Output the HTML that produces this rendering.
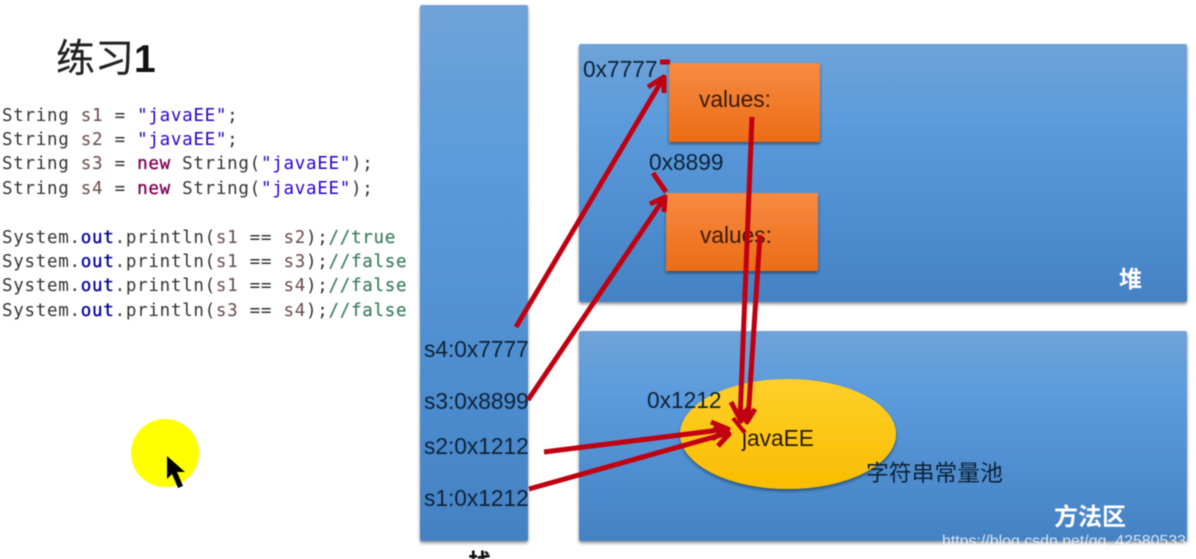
<!DOCTYPE html>
<html><head><meta charset="utf-8"><style>
html,body{margin:0;padding:0;background:#fff;width:1196px;height:559px;overflow:hidden}
svg{display:block;filter:blur(.45px)}
.c{font-family:"DejaVu Sans Mono","Liberation Mono",monospace;font-size:17.5px;letter-spacing:.72px;fill:#333;white-space:pre}
.l{font-family:"Liberation Sans","Noto Sans CJK SC",sans-serif;font-size:22.7px;fill:#0d2238}
.k{fill:#7f0055;stroke:#7f0055;stroke-width:.35px}.s{fill:#2a00d0}.v{fill:#6a4a4a}.f{fill:#0000a0;stroke:#0000a0;stroke-width:.35px}.m{fill:#3f7f5f;stroke:#3f7f5f;stroke-width:.2px}
</style></head><body>
<svg width="1196" height="559" viewBox="0 0 1196 559" xmlns="http://www.w3.org/2000/svg">
<defs>
<linearGradient id="b" x1="0" y1="0" x2="0" y2="1"><stop offset="0" stop-color="#6fa3d8"/><stop offset=".3" stop-color="#5b9bdc"/><stop offset="1" stop-color="#4482c4"/></linearGradient>
<linearGradient id="o" x1="0" y1="0" x2="0" y2="1"><stop offset="0" stop-color="#f78b42"/><stop offset="1" stop-color="#ec6c16"/></linearGradient>
<linearGradient id="y" x1="0" y1="0" x2="0" y2="1"><stop offset="0" stop-color="#fdd02a"/><stop offset="1" stop-color="#fbbd00"/></linearGradient>
<filter id="sh" x="-5%" y="-5%" width="110%" height="110%"><feDropShadow dx="0" dy="2" stdDeviation="1.5" flood-color="#000" flood-opacity=".45"/></filter>
</defs>
<rect x="0" y="0" width="1196" height="559" fill="#fff"/>

<text x="56" y="72" font-family="'Liberation Sans','Noto Sans CJK SC',sans-serif" font-size="39" fill="#222" stroke="#222" stroke-width=".2">练习<tspan font-weight="bold" stroke="none" fill="#111">1</tspan></text>

<text class="c" x="2" y="121">String <tspan class="v">s1</tspan> = <tspan class="s">"javaEE"</tspan>;</text>
<text class="c" x="2" y="145">String <tspan class="v">s2</tspan> = <tspan class="s">"javaEE"</tspan>;</text>
<text class="c" x="2" y="169">String <tspan class="v">s3</tspan> = <tspan class="k">new</tspan> String(<tspan class="s">"javaEE"</tspan>);</text>
<text class="c" x="2" y="194">String <tspan class="v">s4</tspan> = <tspan class="k">new</tspan> String(<tspan class="s">"javaEE"</tspan>);</text>
<text class="c" x="2" y="243">System.<tspan class="f">out</tspan>.println(<tspan class="v">s1</tspan> == <tspan class="v">s2</tspan>);<tspan class="m">//true</tspan></text>
<text class="c" x="2" y="267">System.<tspan class="f">out</tspan>.println(<tspan class="v">s1</tspan> == <tspan class="v">s3</tspan>);<tspan class="m">//false</tspan></text>
<text class="c" x="2" y="291">System.<tspan class="f">out</tspan>.println(<tspan class="v">s1</tspan> == <tspan class="v">s4</tspan>);<tspan class="m">//false</tspan></text>
<text class="c" x="2" y="316">System.<tspan class="f">out</tspan>.println(<tspan class="v">s3</tspan> == <tspan class="v">s4</tspan>);<tspan class="m">//false</tspan></text>

<circle cx="165" cy="453" r="34" fill="#ffff00"/>
<path d="M167 456 L167 479 L172 474 L178 488 L183 486 L177 472 L185 472 Z" fill="#000"/>

<rect x="420" y="5" width="108" height="536" rx="2" fill="url(#b)" filter="url(#sh)"/>
<rect x="579" y="44" width="608" height="258" rx="2" fill="url(#b)" filter="url(#sh)"/>
<rect x="579" y="331" width="608" height="210" rx="2" fill="url(#b)" filter="url(#sh)"/>

<rect x="669" y="63" width="151" height="79" fill="url(#o)" filter="url(#sh)"/>
<rect x="666" y="193" width="152" height="78" fill="url(#o)" filter="url(#sh)"/>
<ellipse cx="788" cy="434" rx="108" ry="55" fill="url(#y)" filter="url(#sh)"/>

<text class="l" x="583" y="77">0x7777</text>
<text class="l" x="649" y="170">0x8899</text>
<text class="l" x="647" y="408">0x1212</text>
<text class="l" x="699" y="107" style="fill:#3a1a08">values:</text>
<text class="l" x="700" y="243" style="fill:#3a1a08">values:</text>
<text class="l" x="742" y="446" style="fill:#2a1a00">javaEE</text>
<text class="l" x="424" y="357">s4:0x7777</text>
<text class="l" x="424" y="409">s3:0x8899</text>
<text class="l" x="424" y="454">s2:0x1212</text>
<text class="l" x="424" y="506">s1:0x1212</text>
<text class="l" x="866" y="481" style="font-size:22.8px">字符串常量池</text>
<text x="1119" y="287" font-family="'Noto Sans CJK SC',sans-serif" font-weight="bold" font-size="23" fill="#fff">堆</text>
<text x="1054" y="525" font-family="'Noto Sans CJK SC',sans-serif" font-weight="bold" font-size="24" fill="#fff">方法区</text>
<text x="468" y="571" font-family="'Noto Sans CJK SC',sans-serif" font-weight="bold" font-size="24" fill="#111">栈</text>
<text x="942" y="546" font-family="'Liberation Sans',sans-serif" font-size="16" textLength="244" lengthAdjust="spacingAndGlyphs" fill="#fff" fill-opacity=".78">https://blog.csdn.net/qq_42580533</text>

<g fill="none" stroke="#c00010" stroke-width="5" stroke-linejoin="round">
<path d="M516 327 L664 77"/><path d="M648 87 L664 77 L664 93"/>
<path d="M660 62 L670 62"/>
<path d="M528 400 L665 197"/><path d="M650 204 L665 197 L664 212"/>
<path d="M653 173 L666 192"/>
<path d="M752 117 L740 420"/><path d="M731 402 L741 421 L748 408"/>
<path d="M760 235 L748 420"/><path d="M742 410 L747 422 L755 409"/>
<path d="M544 452 L728 429"/><path d="M711 422 L728 429 L712 439"/>
<path d="M529 489 L728 433"/><path d="M714 426 L729 434 L718 446"/>
<path d="M733 418 L745 433" stroke-width="4"/>
</g>
</svg>
</body></html>
